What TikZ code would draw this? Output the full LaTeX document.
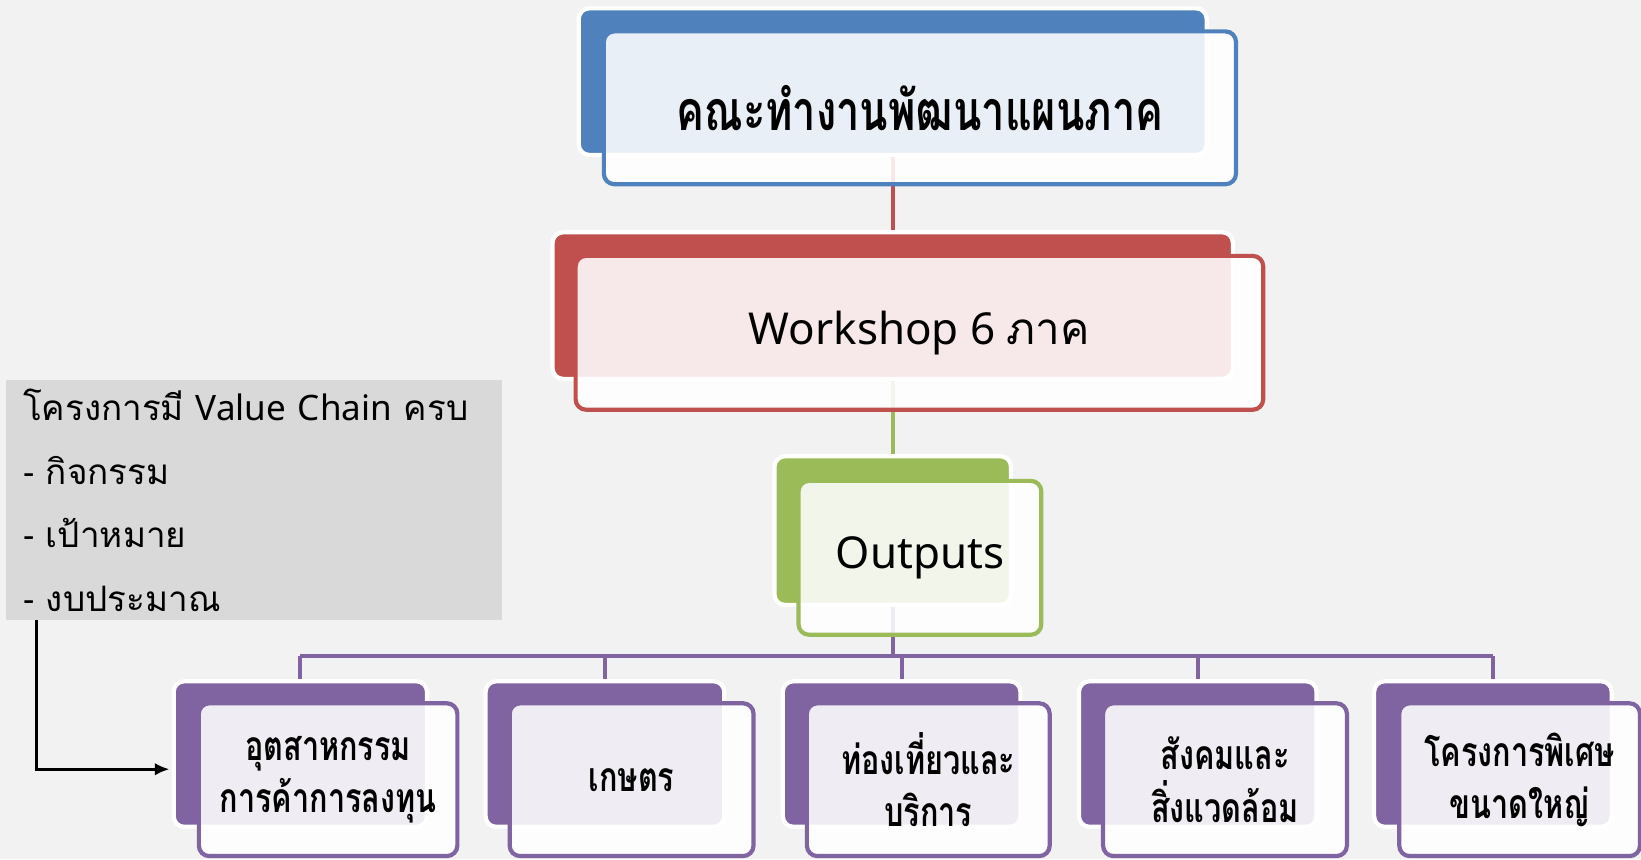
\documentclass[tikz,border=0pt]{standalone}
\usepackage{fontspec}
\setmainfont{Noto Sans}
\newfontfamily\thai[Script=Thai]{Loma}
\newfontfamily\thaicond[Script=Thai,FakeStretch=0.75]{Loma}
\usetikzlibrary{arrows.meta,backgrounds}

\definecolor{bgcol}{HTML}{F2F2F2}
\definecolor{boxgray}{HTML}{D9D9D9}
\definecolor{cblue}{HTML}{4F81BD}
\definecolor{cred}{HTML}{C0504D}
\definecolor{cgreen}{HTML}{9BBB59}
\definecolor{cpurple}{HTML}{8064A2}

\tikzset{
  backbox/.style={fill=#1, draw=white, line width=4pt, rounded corners=10pt, inner sep=0pt},
  frontbox/.style={draw=#1, fill=white, fill opacity=0.88, text opacity=1, line width=4pt,
    rounded corners=10pt, inner sep=0pt, align=center},
  link/.style={draw=#1, line width=4pt},
  titlefont/.style={font=\fontsize{53}{64}\selectfont\thaicond\bfseries},
  midfont/.style={font=\fontsize{42}{50}\selectfont},
  leaffont/.style={font=\fontsize{39}{50}\selectfont\thaicond\bfseries}
}

\begin{document}
\begin{tikzpicture}[x=1pt,y=-1pt]
\useasboundingbox (0,0) rectangle (1568,821);

%top
\node[backbox=cblue, minimum width=600pt, minimum height=140pt] (topback) at (853,78) {};
\node[frontbox=cblue, minimum width=604pt, minimum height=146pt, titlefont] (topfront) at (879,103) {คณะทำงานพัฒนาแผนภาค};

%workshop
\node[backbox=cred, minimum width=650pt, minimum height=140pt] (wsback) at (853,292) {};
\node[frontbox=cred, minimum width=657pt, minimum height=147pt, midfont] (wsfront) at (878.5,318) {Workshop 6 {\thai ภาค}};

%outputs
\node[backbox=cgreen, minimum width=226pt, minimum height=142pt] (outback) at (853,507) {};
\node[frontbox=cgreen, minimum width=232pt, minimum height=147pt, midfont] (outfront) at (879,533) {Outputs};

%leaves
\node[backbox=cpurple, minimum width=242pt, minimum height=139pt] (indback) at (287,720.5) {};
\node[frontbox=cpurple, minimum width=247pt, minimum height=146pt, leaffont] (indfront) at (313.5,745) {อุตสาหกรรม\\การค้าการลงทุน};

\node[backbox=cpurple, minimum width=228pt, minimum height=139pt] (agriback) at (578,720.5) {};
\node[frontbox=cpurple, minimum width=233pt, minimum height=146pt, leaffont] (agrifront) at (603.5,745) {เกษตร};

\node[backbox=cpurple, minimum width=227pt, minimum height=139pt] (tourback) at (861.5,720.5) {};
\node[frontbox=cpurple, minimum width=232pt, minimum height=146pt, leaffont] (tourfront) at (887,745) {ท่องเที่ยวและ\\บริการ};

\node[backbox=cpurple, minimum width=227pt, minimum height=139pt] (socback) at (1144.5,720.5) {};
\node[frontbox=cpurple, minimum width=233pt, minimum height=146pt, leaffont] (socfront) at (1170.5,745) {สังคมและ\\สิ่งแวดล้อม};

\node[backbox=cpurple, minimum width=227pt, minimum height=139pt] (megaback) at (1426.5,720.5) {};
\node[frontbox=cpurple, minimum width=230pt, minimum height=146pt, leaffont] (megafront) at (1452,745) {โครงการพิเศษ\\ขนาดใหญ่};

%value chain note
\node[fill=boxgray, minimum width=474pt, minimum height=229pt, text width=442pt, inner xsep=16pt,
  align=left, font=\fontsize{33.5}{61}\selectfont] (vcnote) at (243,478)
  {{\thai โครงการมี} Value Chain {\thai ครบ}\\- {\thai กิจกรรม}\\- {\thai เป้าหมาย}\\- {\thai งบประมาณ}};

%note -> industry
\draw[black, line width=3pt, -{Latex[length=14pt,width=12pt]}] ([xshift=29pt]vcnote.south west) |- ([yshift=-14.5pt,xshift=-2pt]indback.west);

\begin{pgfonlayer}{background}
\fill[bgcol] (0,0) rectangle (1568,821);
\coordinate (bar) at (0,627);

%top->workshop->outputs
\draw[link=cred] (topback.south) -- (wsback.north);
\draw[link=cgreen] (wsback.south) -- (outback.north);

%outputs->leaves
\draw[link=cpurple] (outback.south) -- (outback.south |- bar);
\draw[link=cpurple] (indback.north |- bar) -- (megaback.north |- bar);
\draw[link=cpurple] (indback.north |- bar) -- (indback.north);
\draw[link=cpurple] (agriback.north |- bar) -- (agriback.north);
\draw[link=cpurple] (tourback.north |- bar) -- (tourback.north);
\draw[link=cpurple] (socback.north |- bar) -- (socback.north);
\draw[link=cpurple] (megaback.north |- bar) -- (megaback.north);
\end{pgfonlayer}

\end{tikzpicture}
\end{document}
